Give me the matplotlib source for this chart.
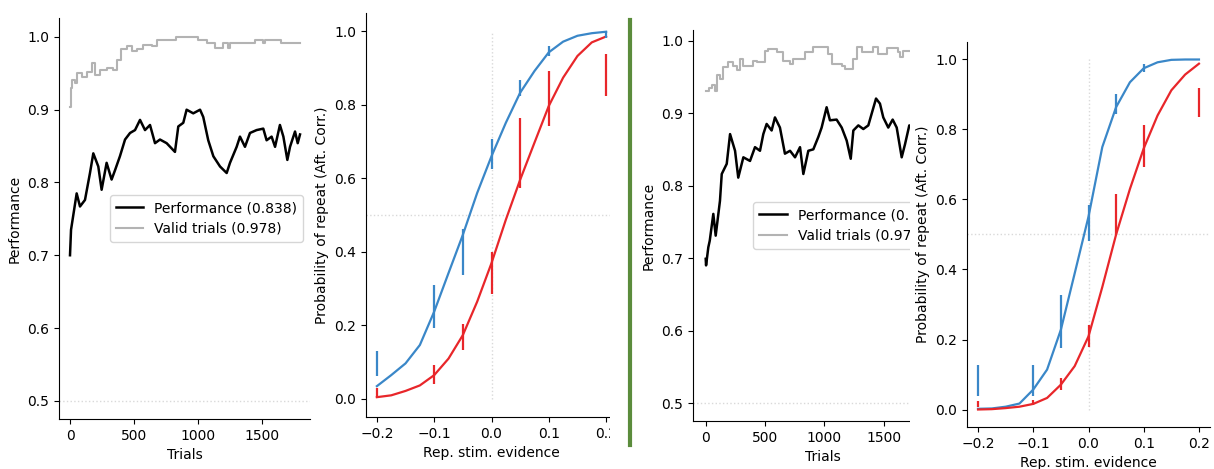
import matplotlib
matplotlib.use("Agg")
import matplotlib.pyplot as plt
from matplotlib.patches import Rectangle
from matplotlib.lines import Line2D

# ---------------- data: session A ----------------
perf_a_trials = [0, 8, 52, 78, 117, 156, 182, 221, 247, 286, 325, 352, 390, 430, 469,
                 508, 547, 586, 625, 664, 703, 755, 820, 846, 885, 911, 963, 1016, 1041,
                 1080, 1120, 1172, 1224, 1250, 1302, 1328, 1367, 1406, 1458, 1510, 1536,
                 1575, 1602, 1640, 1667, 1698, 1719, 1758, 1779, 1797]
perf_a = [0.700, 0.735, 0.785, 0.767, 0.776, 0.813, 0.840, 0.822, 0.790, 0.827, 0.804,
          0.817, 0.836, 0.859, 0.868, 0.872, 0.886, 0.872, 0.879, 0.854, 0.859, 0.854,
          0.842, 0.877, 0.882, 0.900, 0.895, 0.900, 0.890, 0.858, 0.836, 0.822, 0.813,
          0.827, 0.849, 0.863, 0.849, 0.868, 0.872, 0.874, 0.858, 0.863, 0.849, 0.879,
          0.863, 0.831, 0.849, 0.870, 0.854, 0.866]
valid_a_trials = [0, 8, 13, 39, 57, 91, 135, 169, 195, 234, 286, 338, 370, 396, 443, 482,
                  521, 573, 638, 677, 830, 1003, 1068, 1133, 1198, 1236, 1250, 1445, 1505,
                  1520, 1640, 1650, 1800]
valid_a = [0.904, 0.930, 0.941, 0.936, 0.950, 0.945, 0.952, 0.964, 0.948, 0.955, 0.957,
           0.955, 0.968, 0.984, 0.987, 0.980, 0.984, 0.989, 0.987, 0.996, 1.000, 0.996,
           0.991, 0.985, 0.991, 0.985, 0.991, 0.996, 0.991, 0.996, 0.996, 0.991, 0.991]
label_perf_a = "Performance (0.838)"
label_valid_a = "Valid trials (0.978)"

# psychometric curves, session A
evidence_grid = [-0.2, -0.175, -0.15, -0.125, -0.1, -0.075, -0.05, -0.025, 0.0,
                 0.025, 0.05, 0.075, 0.1, 0.125, 0.15, 0.175, 0.2]
fit_rep_a = [0.034, 0.064, 0.096, 0.146, 0.237, 0.342, 0.446, 0.560, 0.660, 0.751,
             0.833, 0.892, 0.943, 0.972, 0.988, 0.995, 0.999]
fit_alt_a = [0.004, 0.009, 0.021, 0.036, 0.064, 0.109, 0.173, 0.264, 0.369, 0.487,
             0.596, 0.697, 0.797, 0.874, 0.933, 0.970, 0.986]
evidence_pts = [-0.2, -0.1, -0.05, 0.0, 0.05, 0.1, 0.2]
rep_lo_a = [0.061, 0.191, 0.337, 0.626, 0.824, 0.932, 0.983]
rep_hi_a = [0.131, 0.310, 0.462, 0.706, 0.868, 0.961, 1.000]
alt_lo_a = [0.002, 0.041, 0.132, 0.285, 0.574, 0.742, 0.824]
alt_hi_a = [0.030, 0.091, 0.203, 0.400, 0.765, 0.892, 0.938]

# ---------------- data: session B ----------------
perf_b_trials = [0, 3, 22, 34, 64, 84, 120, 135, 177, 205, 247, 274, 317, 373, 415, 457,
                 485, 513, 555, 583, 625, 667, 710, 752, 794, 822, 864, 906, 948, 976,
                 1018, 1046, 1102, 1145, 1187, 1221, 1243, 1285, 1327, 1369, 1397, 1434,
                 1467, 1495, 1537, 1574, 1608, 1650, 1678, 1714, 1740]
perf_b = [0.699, 0.690, 0.715, 0.724, 0.761, 0.731, 0.779, 0.816, 0.830, 0.871, 0.848,
          0.811, 0.839, 0.834, 0.853, 0.848, 0.871, 0.885, 0.876, 0.894, 0.880, 0.844,
          0.848, 0.839, 0.853, 0.816, 0.848, 0.850, 0.867, 0.880, 0.908, 0.890, 0.891,
          0.880, 0.862, 0.837, 0.876, 0.883, 0.878, 0.883, 0.899, 0.920, 0.913, 0.894,
          0.880, 0.891, 0.880, 0.839, 0.857, 0.883, 0.880]
valid_b_trials = [0, 25, 50, 78, 92, 120, 148, 190, 232, 260, 288, 317, 401, 429, 471,
                  499, 527, 597, 653, 710, 738, 808, 836, 906, 990, 1032, 1060, 1145, 1173,
                  1243, 1271, 1313, 1411, 1453, 1523, 1622, 1636, 1664, 1740]
valid_b = [0.931, 0.935, 0.938, 0.931, 0.952, 0.947, 0.963, 0.970, 0.965, 0.959, 0.975,
           0.965, 0.972, 0.970, 0.970, 0.986, 0.988, 0.984, 0.972, 0.968, 0.975, 0.975,
           0.984, 0.991, 0.991, 0.982, 0.968, 0.965, 0.961, 0.975, 0.991, 0.984, 0.991,
           0.982, 0.989, 0.984, 0.977, 0.986, 0.986]
label_perf_b = "Performance (0.852)"
label_valid_b = "Valid trials (0.975)"

fit_rep_b = [0.002, 0.003, 0.008, 0.017, 0.057, 0.114, 0.228, 0.389, 0.551, 0.750,
             0.864, 0.935, 0.975, 0.992, 0.999, 1.000, 1.000]
fit_alt_b = [0.000, 0.001, 0.004, 0.008, 0.016, 0.033, 0.071, 0.124, 0.209, 0.350,
             0.500, 0.630, 0.746, 0.840, 0.912, 0.957, 0.988]
rep_lo_b = [0.038, 0.038, 0.176, 0.480, 0.845, 0.964]
rep_hi_b = [0.128, 0.128, 0.328, 0.584, 0.902, 0.988]
rep_pts_b = [-0.2, -0.1, -0.05, 0.0, 0.05, 0.1]
alt_lo_b = [0.008, 0.014, 0.057, 0.180, 0.499, 0.693, 0.836]
alt_hi_b = [0.024, 0.028, 0.090, 0.242, 0.615, 0.812, 0.919]

BLUE = "#3a87c8"
RED = "#e8262a"
GRID = "#d9d9d9"

W, H = 1214, 469
fig = plt.figure(figsize=(W / 100, H / 100), dpi=100)


def rect(l, t, r, b):
    return [l / W, (H - b) / H, (r - l) / W, (b - t) / H]


def despine(ax):
    ax.spines["top"].set_visible(False)
    ax.spines["right"].set_visible(False)


def perf_panel(ax, tr, perf, vtr, valid, lab_p, lab_v, xlim, ylim):
    ax.plot(tr, perf, color="black", lw=1.8, label=lab_p)
    ax.plot(vtr, valid, color="#b3b3b3", lw=1.5, drawstyle="steps-post", label=lab_v)
    ax.axhline(0.5, ls=":", color=GRID, lw=1)
    ax.set_xlim(*xlim)
    ax.set_ylim(*ylim)
    ax.set_xticks([0, 500, 1000, 1500])
    ax.set_yticks([0.5, 0.6, 0.7, 0.8, 0.9, 1.0])
    ax.set_xlabel("Trials")
    ax.set_ylabel("Performance")
    ax.legend(loc="center right")
    despine(ax)


def psych_panel(ax, fit_rep, fit_alt, rx, rlo, rhi, ax_x, alo, ahi, xlim):
    ax.plot([0, 0], [0, 1], ls=":", color=GRID, lw=1)
    ax.axhline(0.5, ls=":", color=GRID, lw=1)
    ax.plot(evidence_grid, fit_rep, color=BLUE, lw=1.6)
    ax.plot(evidence_grid, fit_alt, color=RED, lw=1.6)
    rm = [(a + b) / 2 for a, b in zip(rlo, rhi)]
    re = [(b - a) / 2 for a, b in zip(rlo, rhi)]
    am = [(a + b) / 2 for a, b in zip(alo, ahi)]
    ae = [(b - a) / 2 for a, b in zip(alo, ahi)]
    ax.errorbar(rx, rm, yerr=re, fmt="none", ecolor=BLUE, elinewidth=1.6)
    ax.errorbar(ax_x, am, yerr=ae, fmt="none", ecolor=RED, elinewidth=1.6)
    ax.set_xlim(*xlim)
    ax.set_ylim(-0.05, 1.05)
    ax.set_xticks([-0.2, -0.1, 0.0, 0.1, 0.2])
    ax.set_yticks([0.0, 0.2, 0.4, 0.6, 0.8, 1.0])
    ax.set_xlabel("Rep. stim. evidence")
    ax.set_ylabel("Probability of repeat (Aft. Corr.)")
    despine(ax)


ax1 = fig.add_axes(rect(59, 18, 310, 419))
perf_panel(ax1, perf_a_trials, perf_a, valid_a_trials, valid_a,
           label_perf_a, label_valid_a, (-86, 1875), (0.475, 1.026))

ax2 = fig.add_axes(rect(366, 13, 617, 417))
psych_panel(ax2, fit_rep_a, fit_alt_a, evidence_pts, rep_lo_a, rep_hi_a,
            evidence_pts, alo=alt_lo_a, ahi=alt_hi_a, xlim=(-0.219, 0.219))

ax3 = fig.add_axes(rect(693, 30, 953, 421))
perf_panel(ax3, perf_b_trials, perf_b, valid_b_trials, valid_b,
           label_perf_b, label_valid_b, (-107, 2082), (0.4755, 1.0145))

ax4 = fig.add_axes(rect(967, 42, 1210, 427))
psych_panel(ax4, fit_rep_b, fit_alt_b, rep_pts_b, rep_lo_b, rep_hi_b,
            evidence_pts, alo=alt_lo_b, ahi=alt_hi_b, xlim=(-0.22, 0.22))
ax4.set_zorder(3)

# white gutters trimming the overlapping panels
for l, r in [(610, 628), (910, 967)]:
    fig.add_artist(Rectangle((l / W, 0), (r - l) / W, 1, transform=fig.transFigure,
                             facecolor="white", edgecolor="none", zorder=2))

# separator between the two sessions
fig.add_artist(Line2D([630 / W, 630 / W], [1 - 20 / H, 1 - 445 / H],
                      transform=fig.transFigure, color="#5b8c3c", lw=3, zorder=2.5))

fig.savefig("out.png", dpi=100)
